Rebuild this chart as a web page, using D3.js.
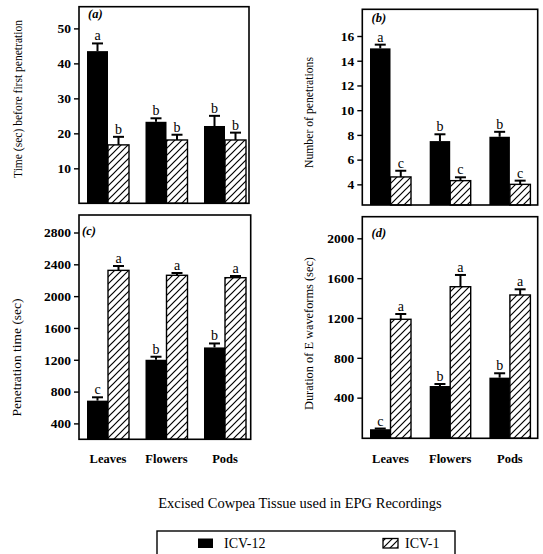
<!DOCTYPE html>
<html><head><meta charset="utf-8">
<script src="https://cdn.jsdelivr.net/npm/d3@7/dist/d3.min.js"></script>
<style>
body{margin:0;background:#fff;}
svg{display:block;}
text{font-family:"Liberation Serif","DejaVu Serif",serif;fill:#000;}
</style></head>
<body><svg id="c" width="543" height="554"></svg>
<script>
const categories = ["Leaves","Flowers","Pods"];
const seriesNames = ["ICV-12","ICV-1"];

// (a) Time (sec) before first penetration
const timeBefore_ICV12 = [43.5, 23.3, 22.1];
const timeBefore_ICV12_se = [2.2, 1.0, 2.9];
const timeBefore_ICV1 = [16.7, 18.1, 18.1];
const timeBefore_ICV1_se = [2.3, 1.5, 2.1];
const timeBefore_ICV12_sig = ["a","b","b"];
const timeBefore_ICV1_sig = ["b","b","b"];
const timeBefore_ticks = [10,20,30,40,50];

// (b) Number of penetrations
const nPen_ICV12 = [15.0, 7.5, 7.85];
const nPen_ICV12_se = [0.3, 0.55, 0.4];
const nPen_ICV1 = [4.6, 4.3, 4.0];
const nPen_ICV1_se = [0.5, 0.27, 0.3];
const nPen_ICV12_sig = ["a","b","b"];
const nPen_ICV1_sig = ["c","c","c"];
const nPen_ticks = [4,6,8,10,12,14,16];

// (c) Penetration time (sec)
const penTime_ICV12 = [686, 1200, 1355];
const penTime_ICV12_se = [42, 38, 50];
const penTime_ICV1 = [2324, 2262, 2232];
const penTime_ICV1_se = [55, 29, 21];
const penTime_ICV12_sig = ["c","b","b"];
const penTime_ICV1_sig = ["a","a","a"];
const penTime_ticks = [400,800,1200,1600,2000,2400,2800];

// (d) Duration of E waveforms (sec)
const durE_ICV12 = [83, 517, 601];
const durE_ICV12_se = [7, 20, 44];
const durE_ICV1 = [1187, 1514, 1431];
const durE_ICV1_se = [53, 118, 57];
const durE_ICV12_sig = ["c","b","b"];
const durE_ICV1_sig = ["a","a","a"];
const durE_ticks = [400,800,1200,1600,2000];

const svg = d3.select("#c");
const defs = svg.append("defs");
const pat = defs.append("pattern").attr("id","hatch").attr("patternUnits","userSpaceOnUse")
  .attr("width",7).attr("height",7);
pat.append("rect").attr("width",7).attr("height",7).attr("fill","#fff");
pat.append("path").attr("d","M-1,1 L1,-1 M0,7 L7,0 M6,8 L8,6").attr("stroke","#000").attr("stroke-width",1.2);

const panels = [
  {tag:"(a)", title:"Time (sec) before first penetration", frame:[79,6.7,249,203.3], domain:[0,56.2], range:[203.3,6.7],
   xr:[87,246], pin:0.282, ticks:timeBefore_ticks,
   v:[timeBefore_ICV12,timeBefore_ICV1], se:[timeBefore_ICV12_se,timeBefore_ICV1_se], sig:[timeBefore_ICV12_sig,timeBefore_ICV1_sig],
   tx:18, ty:99, tl:158, lx:88, ly:18, cats:false},
  {tag:"(b)", title:"Number of penetrations", frame:[362.3,9.3,537.7,205], domain:[2.33,18.16], range:[205,9.3],
   xr:[370,530.4], pin:0.313, ticks:nPen_ticks,
   v:[nPen_ICV12,nPen_ICV1], se:[nPen_ICV12_se,nPen_ICV1_se], sig:[nPen_ICV12_sig,nPen_ICV1_sig],
   tx:309, ty:112.5, tl:111, lx:371.5, ly:22, cats:false},
  {tag:"(c)", title:"Penetration time (sec)", frame:[79,215,250.7,439.3], domain:[200,3020], range:[439.3,215],
   xr:[87,246], pin:0.282, ticks:penTime_ticks,
   v:[penTime_ICV12,penTime_ICV1], se:[penTime_ICV12_se,penTime_ICV1_se], sig:[penTime_ICV12_sig,penTime_ICV1_sig],
   tx:17, ty:357.5, tl:118, lx:82, ly:235, cats:true},
  {tag:"(d)", title:"Duration of E waveforms (sec)", frame:[362.3,216.7,537.7,438.3], domain:[0,2217], range:[437.5,216.7],
   xr:[370,530.4], pin:0.313, ticks:durE_ticks,
   v:[durE_ICV12,durE_ICV1], se:[durE_ICV12_se,durE_ICV1_se], sig:[durE_ICV12_sig,durE_ICV1_sig],
   tx:309, ty:333.5, tl:153, lx:371.5, ly:236.5, cats:true}
];

panels.forEach(p => {
  const [fx0,fy0,fx1,fy1] = p.frame;
  const y = d3.scaleLinear().domain(p.domain).range(p.range);
  const x = d3.scaleBand().domain(categories).range(p.xr).paddingInner(p.pin).paddingOuter(0);
  const xs = d3.scaleBand().domain(seriesNames).range([0, x.bandwidth()]).padding(0);
  const g = svg.append("g");

  seriesNames.forEach((s, si) => {
    categories.forEach((c, ci) => {
      const val = p.v[si][ci], se = p.se[si][ci];
      const bx = x(c) + xs(s), bw = xs.bandwidth();
      const top = y(val);
      g.append("rect").attr("x", bx).attr("y", top).attr("width", bw).attr("height", fy1 - top)
        .attr("fill", si === 0 ? "#000" : "url(#hatch)")
        .attr("stroke", "#000").attr("stroke-width", si === 0 ? 0 : 1.4);
      const cx = bx + bw/2, et = y(val + se);
      g.append("line").attr("x1",cx).attr("x2",cx).attr("y1",top).attr("y2",et).attr("stroke","#000").attr("stroke-width",2);
      g.append("line").attr("x1",cx-5.5).attr("x2",cx+5.5).attr("y1",et).attr("y2",et).attr("stroke","#000").attr("stroke-width",2);
      g.append("text").attr("x",cx).attr("y",et-3).attr("text-anchor","middle").attr("fill","#000")
        .style("font-size","14px").text(p.sig[si][ci]);
    });
  });

  g.append("rect").attr("x",fx0).attr("y",fy0).attr("width",fx1-fx0).attr("height",fy1-fy0)
    .attr("fill","none").attr("stroke","#000").attr("stroke-width",1.6);

  const ax = g.append("g").attr("transform",`translate(${fx0},0)`)
    .call(d3.axisLeft(y).tickValues(p.ticks).tickSize(5).tickPadding(3).tickFormat(d3.format("d")));
  ax.attr("font-family","Liberation Serif, serif").attr("font-size",13.5);
  ax.select(".domain").remove();
  ax.selectAll(".tick line").attr("stroke","#000").attr("stroke-width",1.4);
  ax.selectAll(".tick text").style("font-family","'Liberation Serif',serif").style("font-size","13.5px")
    .style("font-weight","bold").attr("fill","#000");

  g.append("text").attr("x",p.lx).attr("y",p.ly).style("font-size","12.5px").style("font-style","italic")
    .style("font-weight","bold").attr("fill","#000").text(p.tag);

  g.append("text").attr("transform",`translate(${p.tx},${p.ty}) rotate(-90)`)
    .attr("text-anchor","middle").attr("dominant-baseline","central")
    .attr("textLength",p.tl).attr("lengthAdjust","spacingAndGlyphs").attr("fill","#000")
    .style("font-size","12px").text(p.title);

  if (p.cats) {
    g.selectAll(".cat").data(categories).enter().append("text")
      .attr("x", d => x(d) + x.bandwidth()/2).attr("y", 462.5).attr("text-anchor","middle").attr("fill","#000")
      .style("font-size","12.5px").style("font-weight","bold").text(d => d);
  }
});

svg.append("text").attr("x",300).attr("y",508).attr("text-anchor","middle").attr("fill","#000")
  .style("font-size","14.5px").text("Excised Cowpea Tissue used in EPG Recordings");

svg.append("rect").attr("x",157).attr("y",531).attr("width",298).attr("height",34)
  .attr("fill","none").attr("stroke","#000").attr("stroke-width",1.4);
const legX = [198, 383], legTX = [224, 405];
seriesNames.forEach((s, i) => {
  svg.append("rect").attr("x",legX[i]).attr("y",538.5).attr("width",15).attr("height",9.5)
    .attr("fill", i === 0 ? "#000" : "url(#hatch)").attr("stroke","#000").attr("stroke-width", i===0?0:1.3);
  svg.append("text").attr("x",legTX[i]).attr("y",548).attr("fill","#000").style("font-size","14px").text(s);
});
</script></body></html>
